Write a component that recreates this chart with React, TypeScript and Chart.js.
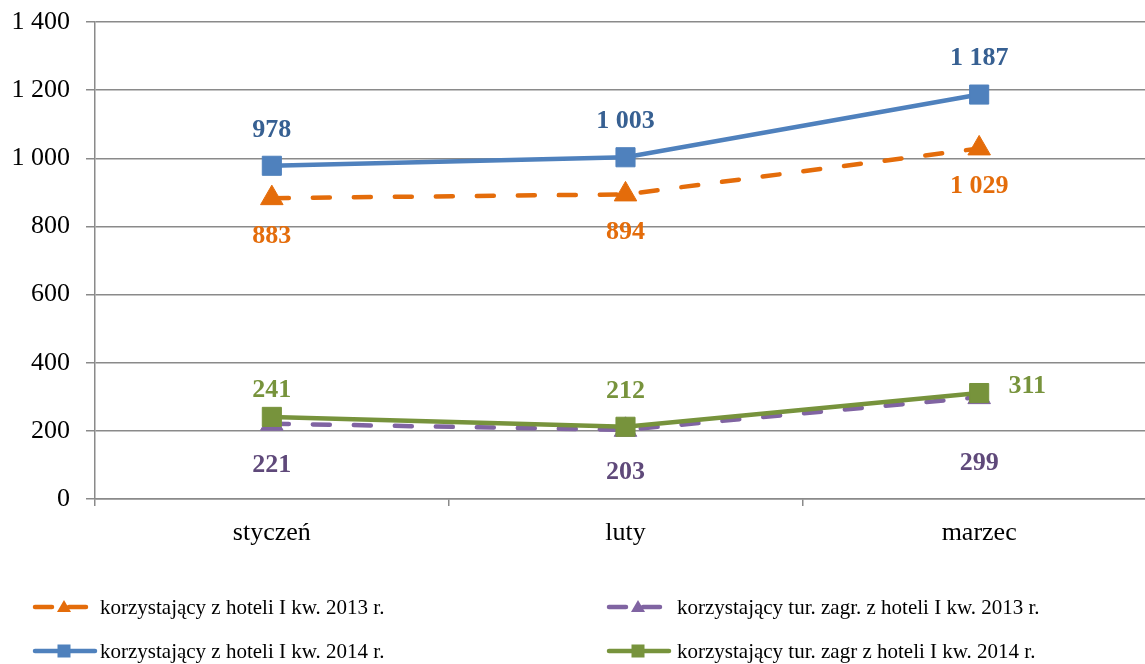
import React, { useEffect, useRef } from "react";
import { Chart, registerables } from "chart.js";

Chart.register(...registerables);

const categories = ["styczeń", "luty", "marzec"];
const total2014 = [978, 1003, 1187];
const foreign2014 = [241, 212, 311];
const total2013 = [883, 894, 1029];
const foreign2013 = [221, 203, 299];
const seriesNames = [
  "korzystający z hoteli I kw. 2014 r.",
  "korzystający tur. zagr z hoteli I kw. 2014 r.",
  "korzystający z hoteli I kw. 2013 r.",
  "korzystający tur. zagr. z hoteli I kw. 2013 r.",
];
const yTicks = { min: 0, max: 1400, step: 200 };

// styling: per-point label offsets (dx, dy) relative to the point
const labelOffsets = [
  [[0, -36], [0, -36], [0, -36]],
  [[0, -27], [0, -35], [48, -7]],
  [[0, 38], [0, 38], [0, 38]],
  [[0, 42], [0, 42], [0, 66]],
];
const labelColors = ["#376092", "#77933C", "#E46C0A", "#5F497A"];

const FONT = "'Liberation Serif', 'Times New Roman', serif";

const fmt = (v: number) => String(v).replace(/\B(?=(\d{3})+(?!\d))/g, " ");

const dataLabelPlugin = {
  id: "dataLabels",
  afterDatasetsDraw(chart: any) {
    const ctx = chart.ctx;
    ctx.save();
    ctx.font = `bold 26px ${FONT}`;
    ctx.textAlign = "center";
    ctx.textBaseline = "middle";
    chart.data.datasets.forEach((ds: any, di: number) => {
      const meta = chart.getDatasetMeta(di);
      meta.data.forEach((pt: any, i: number) => {
        const [dx, dy] = labelOffsets[di][i];
        ctx.fillStyle = labelColors[di];
        ctx.fillText(fmt(ds.data[i]), pt.x + dx, pt.y + dy);
      });
    });
    ctx.restore();
  },
};

// legend layout: order of datasets in grid cells
const legendCells = [
  { ds: 2, x: 33, y: 607, textX: 100 },
  { ds: 3, x: 607, y: 607, textX: 677 },
  { ds: 0, x: 33, y: 651, textX: 100 },
  { ds: 1, x: 607, y: 651, textX: 677 },
];

const legendPlugin = {
  id: "customLegend",
  afterDraw(chart: any) {
    const ctx = chart.ctx;
    ctx.save();
    legendCells.forEach((cell) => {
      const ds = chart.data.datasets[cell.ds];
      const dashed = ds.borderDash && ds.borderDash.length;
      const lineEnd = cell.x + (dashed ? 54 : 62);
      ctx.strokeStyle = ds.borderColor;
      ctx.lineWidth = 4.5;
      ctx.lineCap = "round";
      ctx.setLineDash(dashed ? [17, 17] : []);
      ctx.beginPath();
      ctx.moveTo(cell.x + 2, cell.y);
      ctx.lineTo(lineEnd, cell.y);
      ctx.stroke();
      ctx.setLineDash([]);
      ctx.fillStyle = ds.borderColor;
      const mx = cell.x + 31;
      if (ds.pointStyle === "triangle") {
        ctx.beginPath();
        ctx.moveTo(mx, cell.y - 7);
        ctx.lineTo(mx + 7, cell.y + 5);
        ctx.lineTo(mx - 7, cell.y + 5);
        ctx.closePath();
        ctx.fill();
      } else {
        ctx.fillRect(mx - 6.5, cell.y - 6.5, 13, 13);
      }
      ctx.fillStyle = "#000";
      ctx.font = `21px ${FONT}`;
      ctx.textAlign = "left";
      ctx.textBaseline = "middle";
      ctx.fillText(ds.label, cell.textX, cell.y + 1);
    });
    ctx.restore();
  },
};

export default function App() {
  const ref = useRef<HTMLCanvasElement>(null);
  useEffect(() => {
    if (!ref.current) return;
    const mk = (label: string, data: number[], color: string, style: string, dashed: boolean) => ({
      label,
      data,
      borderColor: color,
      backgroundColor: color,
      borderWidth: 4.5,
      borderDash: dashed ? [17, 24] : [],
      borderCapStyle: dashed ? "round" : "butt",
      pointStyle: style,
      pointRadius: style === "rect" ? 13.5 : 13,
      pointBorderWidth: 1,
      pointBorderColor: color,
      pointBackgroundColor: color,
      tension: 0,
    });
    const chart = new Chart(ref.current, {
      type: "line",
      data: {
        labels: categories,
        datasets: [
          mk(seriesNames[0], total2014, "#4F81BD", "rect", false),
          mk(seriesNames[1], foreign2014, "#77933C", "rect", false),
          mk(seriesNames[2], total2013, "#E46C0A", "triangle", true),
          mk(seriesNames[3], foreign2013, "#8064A2", "triangle", true),
        ] as any,
      },
      options: {
        responsive: false,
        animation: false,
        devicePixelRatio: 1,
        layout: { autoPadding: false, padding: { top: 22, right: 0, bottom: 115, left: 0 } },
        plugins: { legend: { display: false }, tooltip: { enabled: false } },
        scales: {
          x: {
            type: "category",
            offset: true,
            grid: { offset: true, drawOnChartArea: false, tickLength: 7, color: "#8a8a8a", lineWidth: 1.5 },
            border: { display: true, color: "#8a8a8a", width: 1.5 },
            ticks: { color: "#000", font: { family: FONT, size: 26 }, padding: 12 },
            afterFit: (s: any) => { s.height = 50; s.paddingLeft = 0; s.paddingRight = 0; },
          },
          y: {
            min: yTicks.min,
            max: yTicks.max,
            grid: { color: "#8a8a8a", lineWidth: 1.5, tickLength: 9 },
            border: { display: true, color: "#8a8a8a", width: 1.5 },
            ticks: {
              stepSize: yTicks.step,
              color: "#000",
              font: { family: FONT, size: 26 },
              padding: 16,
              callback: (v: any) => fmt(Number(v)),
            },
            afterFit: (s: any) => { s.width = 95; s.paddingTop = 0; s.paddingBottom = 0; },
          },
        },
      } as any,
      plugins: [dataLabelPlugin, legendPlugin],
    });
    return () => chart.destroy();
  }, []);
  return (
    <div style={{ position: "absolute", left: 0, top: 0, width: 1145, height: 664, overflow: "hidden", background: "#fff" }}>
      <canvas ref={ref} width={1156} height={664} style={{ display: "block" }} />
    </div>
  );
}
